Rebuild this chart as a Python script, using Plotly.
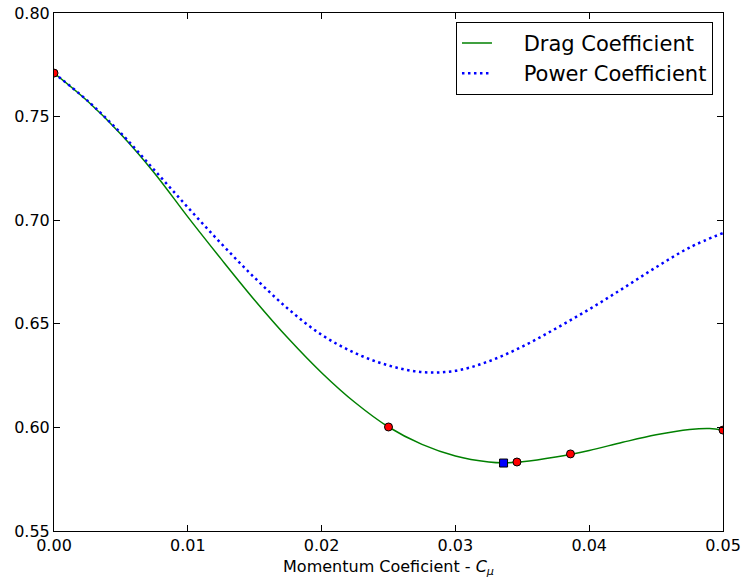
import plotly.graph_objects as go

# Momentum coefficient samples and the two response curves
cmu_drag = [0.0, 0.0025, 0.005, 0.0075, 0.01, 0.0125, 0.015, 0.0175, 0.02, 0.0225,
            0.025, 0.0275, 0.03, 0.0325, 0.0336, 0.035, 0.0375, 0.04, 0.0425, 0.045,
            0.0475, 0.049, 0.05]
drag_coef = [0.7710, 0.7575, 0.7415, 0.7228, 0.7016, 0.6812, 0.6614, 0.6430, 0.6264, 0.6120,
             0.6002, 0.5918, 0.5862, 0.5833, 0.5829, 0.5834, 0.5857, 0.5889, 0.5928, 0.5964,
             0.5990, 0.5995, 0.5987]

cmu_power = [0.0, 0.0025, 0.005, 0.0075, 0.01, 0.0125, 0.015, 0.0175, 0.02, 0.0225,
             0.025, 0.0275, 0.03, 0.0325, 0.035, 0.0375, 0.04, 0.0425, 0.045, 0.0475,
             0.05]
power_coef = [0.7710, 0.7577, 0.7420, 0.7242, 0.7062, 0.6887, 0.6722, 0.6572, 0.6447, 0.6359,
              0.6299, 0.6267, 0.6273, 0.6319, 0.6390, 0.6477, 0.6570, 0.6670, 0.6773, 0.6868,
              0.6938]

# Evaluated design points and the optimum
pts_x = [0.0, 0.025, 0.0346, 0.0386, 0.05]
pts_y = [0.7710, 0.6002, 0.5833, 0.5872, 0.5987]
opt_x = [0.0336]
opt_y = [0.5828]

x_ticks = [0.0, 0.01, 0.02, 0.03, 0.04, 0.05]
y_ticks = [0.55, 0.60, 0.65, 0.70, 0.75, 0.80]

PAD = "\u00a0" * 4

fig = go.Figure()
fig.add_trace(go.Scatter(x=cmu_drag, y=drag_coef, mode="lines", name=PAD + "Drag Coefficient",
                         line=dict(color="#008000", width=1.5, shape="spline")))
fig.add_trace(go.Scatter(x=cmu_power, y=power_coef, mode="lines", name=PAD + "Power Coefficient",
                         line=dict(color="#0000ff", width=2.5, dash="2.5px,3.5px",
                                   shape="spline")))
fig.add_trace(go.Scatter(x=pts_x, y=pts_y, mode="markers", showlegend=False,
                         marker=dict(symbol="circle", size=8, color="#ff0000",
                                     line=dict(color="black", width=1))))
fig.add_trace(go.Scatter(x=opt_x, y=opt_y, mode="markers", showlegend=False,
                         marker=dict(symbol="square", size=8, color="#0000ff",
                                     line=dict(color="black", width=1))))

axis_common = dict(showgrid=False, zeroline=False, showline=True, linecolor="black",
                   linewidth=1, mirror="ticks", ticks="inside", ticklen=6, tickcolor="black",
                   automargin=False,
                   tickfont=dict(family="DejaVu Sans", size=16, color="black"))

fig.update_layout(
    width=743, height=584,
    margin=dict(l=54, r=20, t=13, b=53),
    paper_bgcolor="white", plot_bgcolor="white",
    font=dict(family="DejaVu Sans", color="black"),
    xaxis=dict(range=[0, 0.05], tickvals=x_ticks, tickformat=".2f",
               title=dict(text="Momentum Coeficient - <i>C</i><sub><i>μ</i></sub>",
                          font=dict(family="DejaVu Sans", size=16), standoff=6),
               **axis_common),
    yaxis=dict(range=[0.55, 0.80], tickvals=y_ticks, tickformat=".2f", **axis_common),
    legend=dict(x=0.985, y=0.983, xanchor="right", yanchor="top",
                bgcolor="white", bordercolor="black", borderwidth=1,
                tracegroupgap=0,
                font=dict(family="DejaVu Sans", size=21)),
)

fig.write_html("out.html")
